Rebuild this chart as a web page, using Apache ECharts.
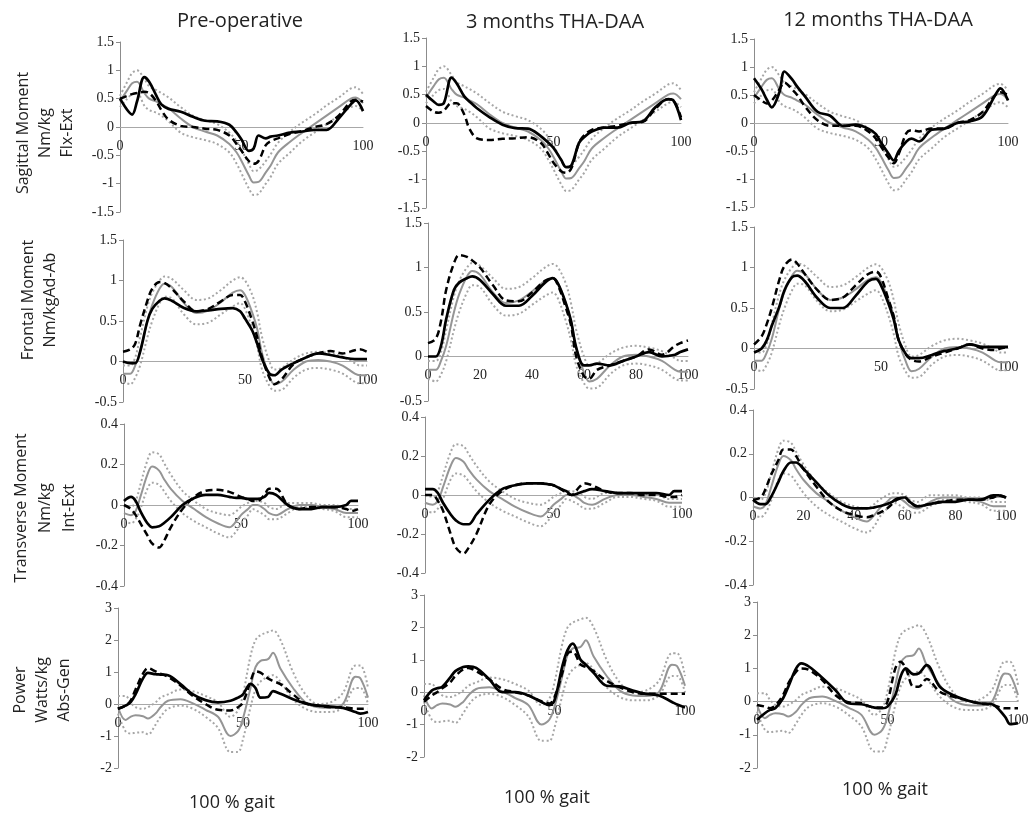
<!DOCTYPE html>
<html>
<head>
<meta charset="utf-8">
<script src="https://cdn.jsdelivr.net/npm/echarts@6/dist/echarts.min.js"></script>
<style>
  html, body { margin: 0; background: #fff; }
  #chart { width: 1031px; height: 813px; }
</style>
</head>
<body>
<div id="chart"></div>
<script>
// % of gait cycle where each curve was sampled
const pct = [0, 3, 5, 7, 10, 12, 15, 17, 20, 25, 30, 35, 40, 45, 48, 50, 53, 55, 57, 60, 62, 65, 70, 75, 80, 85, 90, 95, 97, 100];

const colTitles = ["Pre-operative", "3 months THA-DAA", "12 months THA-DAA"];
const rowNames = ["Sagittal Moment\nNm/kg\nFlx-Ext", "Frontal Moment\nNm/kgAd-Ab", "Transverse Moment\nNm/kg\nInt-Ext", "Power\nWatts/kg\nAbs-Gen"];

// normal reference (grey mean and +/- SD dotted), same in every column
const sagMean = [0.45, 0.65, 0.77, 0.8, 0.6, 0.5, 0.45, 0.4, 0.33, 0.15, 0.0, -0.08, -0.15, -0.3, -0.45, -0.6, -0.85, -0.98, -0.97, -0.8, -0.68, -0.45, -0.26, -0.1, 0.05, 0.2, 0.35, 0.5, 0.52, 0.42];
const sagUp = [0.55, 0.8, 0.95, 1.0, 0.85, 0.72, 0.65, 0.6, 0.52, 0.35, 0.2, 0.12, 0.05, -0.1, -0.25, -0.4, -0.65, -0.78, -0.75, -0.6, -0.48, -0.28, -0.08, 0.08, 0.22, 0.38, 0.52, 0.68, 0.7, 0.58];
const sagLo = [0.35, 0.5, 0.58, 0.6, 0.38, 0.3, 0.25, 0.2, 0.1, -0.1, -0.18, -0.23, -0.3, -0.45, -0.65, -0.82, -1.08, -1.2, -1.18, -1.0, -0.88, -0.65, -0.45, -0.25, -0.1, 0.05, 0.2, 0.35, 0.37, 0.28];

const frMean = [-0.15, -0.15, -0.05, 0.12, 0.5, 0.7, 0.9, 0.96, 0.92, 0.72, 0.6, 0.63, 0.73, 0.85, 0.88, 0.82, 0.6, 0.4, 0.1, -0.18, -0.28, -0.25, -0.1, 0.0, 0.02, 0.0, -0.05, -0.15, -0.17, -0.17];
const frUp = [-0.05, -0.05, 0.05, 0.3, 0.68, 0.85, 1.0, 1.05, 1.02, 0.88, 0.76, 0.78, 0.88, 1.0, 1.04, 1.0, 0.82, 0.6, 0.3, 0.0, -0.1, -0.08, 0.03, 0.1, 0.12, 0.1, 0.06, -0.02, -0.05, -0.05];
const frLo = [-0.25, -0.28, -0.2, -0.05, 0.3, 0.5, 0.72, 0.8, 0.78, 0.58, 0.46, 0.48, 0.58, 0.68, 0.72, 0.65, 0.4, 0.18, -0.1, -0.3, -0.36, -0.35, -0.2, -0.1, -0.08, -0.1, -0.15, -0.25, -0.27, -0.27];

const trMean = [-0.04, -0.05, -0.03, 0.04, 0.15, 0.19, 0.17, 0.13, 0.08, 0.02, -0.02, -0.06, -0.09, -0.11, -0.08, -0.05, -0.02, 0.0, 0.0, -0.02, -0.04, -0.05, -0.02, 0.0, 0.0, -0.01, -0.02, -0.04, -0.04, -0.04];
const trUp = [0.0, -0.01, 0.02, 0.1, 0.22, 0.26, 0.25, 0.21, 0.15, 0.07, 0.02, -0.02, -0.04, -0.05, -0.03, -0.01, 0.01, 0.02, 0.02, 0.01, -0.01, -0.02, 0.01, 0.01, 0.01, 0.0, 0.0, -0.02, -0.02, -0.02];
const trLo = [-0.08, -0.09, -0.07, -0.02, 0.08, 0.11, 0.1, 0.07, 0.02, -0.04, -0.08, -0.11, -0.14, -0.16, -0.13, -0.09, -0.05, -0.02, -0.03, -0.05, -0.07, -0.07, -0.04, -0.01, -0.01, -0.02, -0.03, -0.06, -0.06, -0.06];

const pwMean = [-0.1, -0.5, -0.4, -0.35, -0.38, -0.45, -0.3, -0.1, 0.1, 0.15, 0.02, -0.18, -0.4, -1.0, -0.85, -0.45, 0.5, 1.15, 1.35, 1.4, 1.6, 1.1, 0.5, 0.05, -0.1, -0.12, 0.0, 0.85, 0.8, 0.2];
const pwUp = [0.25, 0.25, 0.05, -0.1, -0.15, -0.1, 0.05, 0.2, 0.3, 0.45, 0.4, 0.25, 0.05, -0.4, -0.2, 0.3, 1.5, 2.0, 2.15, 2.25, 2.3, 2.0, 1.0, 0.3, 0.0, 0.05, 0.35, 1.2, 1.2, 0.5];
const pwLo = [-0.3, -0.85, -0.92, -0.9, -0.88, -0.95, -0.65, -0.4, -0.15, -0.05, -0.15, -0.4, -0.75, -1.5, -1.5, -1.1, -0.1, 0.45, 0.7, 0.85, 0.9, 0.7, 0.15, -0.15, -0.25, -0.25, -0.1, 0.5, 0.5, 0.0];

// patient curves: solid black and dashed black, one pair per panel
const sagPre = [0.5, 0.3, 0.22, 0.45, 0.88, 0.8, 0.55, 0.4, 0.32, 0.27, 0.18, 0.11, 0.1, 0.04, -0.1, -0.22, -0.42, -0.38, -0.15, -0.2, -0.17, -0.15, -0.1, -0.08, -0.05, -0.05, 0.15, 0.4, 0.47, 0.28];
const sagPreD = [0.5, 0.55, 0.58, 0.6, 0.62, 0.6, 0.45, 0.3, 0.13, 0.02, 0.0, -0.03, -0.05, -0.15, -0.3, -0.42, -0.6, -0.65, -0.6, -0.32, -0.25, -0.2, -0.12, -0.07, 0.0, 0.05, 0.2, 0.45, 0.48, 0.45];
const sag3m = [0.5, 0.38, 0.32, 0.35, 0.8, 0.7, 0.47, 0.38, 0.26, 0.1, -0.03, -0.09, -0.1, -0.23, -0.35, -0.44, -0.65, -0.78, -0.75, -0.35, -0.25, -0.15, -0.08, -0.08, 0.0, 0.03, 0.28, 0.42, 0.4, 0.05];
const sag3mD = [0.3, 0.2, 0.18, 0.22, 0.35, 0.35, 0.15, -0.1, -0.27, -0.3, -0.28, -0.27, -0.25, -0.35, -0.55, -0.7, -0.85, -0.88, -0.8, -0.35, -0.22, -0.12, -0.08, -0.05, 0.0, 0.02, 0.25, 0.42, 0.4, 0.1];
const sag12m = [0.8, 0.6, 0.42, 0.28, 0.55, 0.92, 0.78, 0.65, 0.48, 0.2, 0.13, -0.05, -0.03, -0.1, -0.2, -0.35, -0.55, -0.67, -0.5, -0.33, -0.28, -0.33, -0.12, -0.1, 0.0, 0.03, 0.12, 0.5, 0.62, 0.4];
const sag12mD = [0.5, 0.4, 0.35, 0.4, 0.6, 0.72, 0.6, 0.5, 0.3, 0.05, -0.05, -0.05, -0.05, -0.15, -0.28, -0.42, -0.62, -0.72, -0.55, -0.18, -0.13, -0.15, -0.1, -0.1, 0.0, 0.05, 0.2, 0.5, 0.55, 0.5];

const frPre = [0.0, -0.02, -0.02, 0.12, 0.5, 0.65, 0.75, 0.78, 0.75, 0.66, 0.62, 0.63, 0.65, 0.66, 0.62, 0.53, 0.38, 0.22, 0.03, -0.15, -0.17, -0.1, -0.02, 0.05, 0.1, 0.08, 0.05, 0.03, 0.03, 0.03];
const frPreD = [0.12, 0.15, 0.22, 0.45, 0.75, 0.9, 0.98, 0.97, 0.9, 0.74, 0.62, 0.65, 0.74, 0.82, 0.82, 0.74, 0.5, 0.3, 0.05, -0.2, -0.28, -0.22, -0.03, 0.05, 0.1, 0.13, 0.1, 0.14, 0.15, 0.12];
const fr3m = [0.0, 0.0, 0.12, 0.42, 0.75, 0.83, 0.88, 0.9, 0.86, 0.7, 0.57, 0.57, 0.68, 0.83, 0.88, 0.82, 0.6, 0.4, 0.1, -0.1, -0.1, -0.08, -0.1, -0.05, 0.0, 0.05, 0.0, 0.02, 0.05, 0.08];
const fr3mD = [0.15, 0.2, 0.4, 0.75, 1.05, 1.14, 1.12, 1.08, 1.0, 0.8, 0.63, 0.62, 0.72, 0.85, 0.88, 0.8, 0.55, 0.35, 0.0, -0.22, -0.25, -0.15, -0.1, -0.05, 0.0, 0.08, 0.02, 0.12, 0.15, 0.18];
const fr12m = [-0.05, 0.0, 0.1, 0.28, 0.52, 0.72, 0.88, 0.9, 0.83, 0.62, 0.5, 0.5, 0.65, 0.83, 0.86, 0.78, 0.55, 0.36, 0.1, -0.08, -0.12, -0.12, -0.08, -0.03, 0.0, 0.05, 0.02, 0.02, 0.02, 0.02];
const fr12mD = [0.05, 0.15, 0.3, 0.5, 0.85, 1.02, 1.1, 1.05, 0.92, 0.72, 0.6, 0.63, 0.78, 0.92, 0.95, 0.88, 0.6, 0.4, 0.1, -0.08, -0.14, -0.16, -0.1, -0.05, 0.0, 0.05, 0.0, -0.02, 0.0, 0.02];

const trPre = [0.02, 0.04, 0.02, -0.03, -0.09, -0.11, -0.105, -0.09, -0.06, 0.0, 0.035, 0.05, 0.05, 0.04, 0.035, 0.035, 0.03, 0.03, 0.03, 0.04, 0.06, 0.05, 0.0, -0.02, -0.02, -0.01, -0.01, 0.0, 0.02, 0.02];
const trPreD = [0.0, -0.02, -0.05, -0.09, -0.15, -0.19, -0.21, -0.18, -0.11, -0.02, 0.04, 0.07, 0.075, 0.065, 0.05, 0.04, 0.03, 0.02, 0.02, 0.05, 0.08, 0.08, 0.0, -0.02, -0.01, -0.01, -0.01, -0.02, -0.03, -0.02];
const tr3m = [0.03, 0.03, 0.01, -0.04, -0.1, -0.13, -0.15, -0.15, -0.1, -0.025, 0.03, 0.05, 0.06, 0.06, 0.055, 0.05, 0.03, 0.02, 0.0, 0.01, 0.02, 0.03, 0.02, 0.01, 0.01, 0.01, 0.01, 0.0, 0.02, 0.02];
const tr3mD = [0.0, 0.0, -0.03, -0.08, -0.2, -0.27, -0.3, -0.27, -0.2, -0.05, 0.02, 0.05, 0.06, 0.06, 0.055, 0.05, 0.03, 0.01, 0.0, 0.04, 0.06, 0.05, 0.02, 0.01, 0.01, 0.0, 0.0, -0.01, -0.01, 0.0];
const tr12m = [-0.01, -0.03, -0.03, 0.0, 0.07, 0.12, 0.16, 0.16, 0.13, 0.07, 0.01, -0.03, -0.05, -0.05, -0.045, -0.04, -0.03, -0.02, -0.005, 0.0, -0.02, -0.04, -0.03, -0.02, -0.02, -0.01, -0.01, 0.01, 0.01, 0.0];
const tr12mD = [-0.01, 0.0, 0.04, 0.1, 0.17, 0.22, 0.22, 0.19, 0.13, 0.05, -0.02, -0.06, -0.08, -0.09, -0.08, -0.07, -0.05, -0.03, -0.01, 0.0, -0.02, -0.04, -0.03, -0.02, -0.01, -0.01, -0.01, 0.0, 0.01, 0.0];

const pwPre = [-0.15, -0.05, 0.05, 0.3, 0.8, 0.97, 0.93, 0.92, 0.9, 0.62, 0.3, 0.12, 0.05, 0.1, 0.2, 0.3, 0.63, 0.5, 0.2, 0.22, 0.4, 0.32, 0.15, 0.02, -0.05, -0.08, -0.12, -0.25, -0.3, -0.25];
const pwPreD = [-0.15, -0.05, 0.1, 0.45, 0.95, 1.12, 1.02, 0.95, 0.85, 0.58, 0.25, 0.0, -0.18, -0.2, -0.1, 0.05, 0.7, 1.02, 0.98, 0.8, 0.72, 0.62, 0.3, 0.02, -0.05, -0.1, -0.1, -0.15, -0.15, -0.15];
const pw3m = [-0.25, 0.05, 0.12, 0.17, 0.45, 0.65, 0.78, 0.8, 0.75, 0.4, 0.0, 0.0, -0.1, -0.3, -0.4, -0.25, 0.8, 1.3, 1.5, 1.0, 0.85, 0.6, 0.2, 0.18, 0.05, -0.05, -0.1, -0.3, -0.38, -0.47];
const pw3mD = [-0.3, -0.1, 0.0, 0.12, 0.3, 0.5, 0.7, 0.75, 0.65, 0.4, 0.1, 0.0, -0.1, -0.28, -0.35, -0.15, 0.6, 1.2, 1.25, 0.85, 0.78, 0.65, 0.35, 0.15, 0.0, -0.05, -0.05, -0.05, -0.05, -0.05];
const pw12m = [-0.55, -0.35, -0.25, -0.2, 0.1, 0.45, 1.0, 1.15, 1.05, 0.72, 0.35, -0.05, -0.08, -0.18, -0.2, -0.15, 0.2, 0.75, 1.0, 0.82, 0.85, 1.1, 0.45, 0.2, 0.05, -0.05, -0.08, -0.45, -0.68, -0.65];
const pw12mD = [-0.1, -0.15, -0.2, -0.12, 0.2, 0.55, 0.9, 1.0, 0.95, 0.65, 0.2, -0.02, -0.05, -0.18, -0.18, 0.0, 1.0, 1.2, 1.0, 0.45, 0.45, 0.68, 0.3, 0.15, 0.05, -0.05, -0.1, -0.2, -0.2, -0.2];

const rows = [
  { mean: sagMean, up: sagUp, lo: sagLo, solid: [sagPre, sag3m, sag12m], dashed: [sagPreD, sag3mD, sag12mD], min: -1.5, max: 1.5, step: 0.5 },
  { mean: frMean, up: frUp, lo: frLo, solid: [frPre, fr3m, fr12m], dashed: [frPreD, fr3mD, fr12mD], min: -0.5, max: 1.5, step: 0.5 },
  { mean: trMean, up: trUp, lo: trLo, solid: [trPre, tr3m, tr12m], dashed: [trPreD, tr3mD, tr12mD], min: -0.4, max: 0.4, step: 0.2 },
  { mean: pwMean, up: pwUp, lo: pwLo, solid: [pwPre, pw3m, pw12m], dashed: [pwPreD, pw3mD, pw12mD], min: -2, max: 3, step: 1 }
];

// x tick step per panel (row-major)
const xSteps = [50, 50, 50, 50, 20, 50, 50, 50, 20, 50, 50, 50];

// plot boxes [left, top, width, height], row-major
const boxes = [
  [120, 42, 243, 170], [426, 38, 255, 170], [754, 39, 254, 168],
  [123, 240, 244, 162], [428, 223, 260, 178], [754, 227, 254, 162],
  [124, 424, 234, 162], [425, 417, 257, 156], [753, 410, 253, 175],
  [118, 608, 250, 160], [424, 595, 261, 162], [757, 602, 261, 166]
];

const serif = "'Liberation Serif', 'Times New Roman', serif";
const sans = "'Open Sans', 'Liberation Sans', sans-serif";

const pairs = arr => pct.map((x, i) => [x, arr[i]]);

const grid = [], xAxis = [], yAxis = [], series = [];

rows.forEach((row, r) => {
  for (let c = 0; c < 3; c++) {
    const k = r * 3 + c;
    const b = boxes[k];
    // the x axis sits on the zero line: shift it up from the bottom edge
    const zeroLift = b[3] * (0 - row.min) / (row.max - row.min);
    grid.push({ left: b[0], top: b[1], width: b[2], height: b[3], containLabel: false, outerBoundsMode: 'none' });
    xAxis.push({
      type: 'value', gridIndex: k, min: 0, max: 100, interval: xSteps[k],
      position: 'bottom', offset: -zeroLift,
      axisLine: { onZero: false, lineStyle: { color: '#a8a8a8', width: 1 } },
      axisTick: { show: false },
      splitLine: { show: false },
      axisLabel: { fontFamily: serif, fontSize: 14, color: '#222', margin: 12, showMinLabel: true, showMaxLabel: true }
    });
    yAxis.push({
      type: 'value', gridIndex: k, min: row.min, max: row.max, interval: row.step,
      axisLine: { show: true, onZero: false, lineStyle: { color: '#8c8c8c', width: 1 } },
      axisTick: { show: true, length: 4, lineStyle: { color: '#8c8c8c' } },
      splitLine: { show: false },
      axisLabel: { fontFamily: serif, fontSize: 14, color: '#222', margin: 6 }
    });
    const base = { type: 'line', xAxisIndex: k, yAxisIndex: k, showSymbol: false, smooth: 0.35, silent: true, animation: false };
    series.push(
      Object.assign({}, base, { data: pairs(row.up), lineStyle: { color: '#a6a6a6', width: 2, type: [2, 2.5] } }),
      Object.assign({}, base, { data: pairs(row.lo), lineStyle: { color: '#a6a6a6', width: 2, type: [2, 2.5] } }),
      Object.assign({}, base, { data: pairs(row.mean), lineStyle: { color: '#959595', width: 2 } }),
      Object.assign({}, base, { data: pairs(row.dashed[c]), lineStyle: { color: '#000', width: 2.5, type: [7, 4] } }),
      Object.assign({}, base, { data: pairs(row.solid[c]), lineStyle: { color: '#000', width: 2.7 } })
    );
  }
});

const graphic = [];
[[240, 21], [555, 22], [878, 20]].forEach((p, i) => {
  graphic.push({ type: 'text', x: p[0], y: p[1], style: { text: colTitles[i], font: '20px ' + sans, fill: '#222', textAlign: 'center', textVerticalAlign: 'middle' } });
});
[[45, 133, 22], [39, 300, 22], [45, 508, 24], [42, 690, 22]].forEach((p, i) => {
  graphic.push({ type: 'text', x: p[0], y: p[1], rotation: Math.PI / 2, style: { text: rowNames[i], font: '16px ' + sans, fill: '#222', textAlign: 'center', textVerticalAlign: 'middle', lineHeight: p[2] } });
});
[[232, 803], [547, 798], [885, 790]].forEach(p => {
  graphic.push({ type: 'text', x: p[0], y: p[1], style: { text: '100 % gait', font: '18px ' + sans, fill: '#222', textAlign: 'center', textVerticalAlign: 'middle' } });
});

const chart = echarts.init(document.getElementById('chart'));
chart.setOption({ animation: false, backgroundColor: '#fff', grid, xAxis, yAxis, series, graphic });
</script>
</body>
</html>
